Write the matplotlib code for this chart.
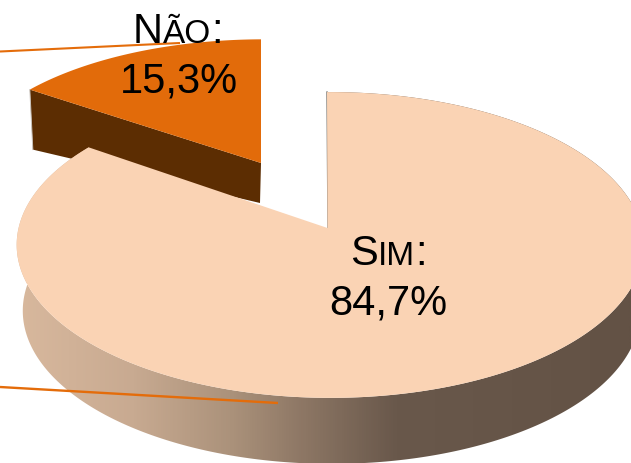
import matplotlib
matplotlib.use("Agg")
import matplotlib.pyplot as plt
import numpy as np
from matplotlib.colors import LinearSegmentedColormap
from matplotlib.patches import Polygon

plt.rcParams['font.family'] = ['Liberation Sans', 'DejaVu Sans']

# data
categories = ["Sim", "Não"]
values = [84.7, 15.3]
value_labels = ["84,7%", "15,3%"]

TOP_BIG = "#FAD3B4"
TOP_SMALL = "#E26B0A"
WALL_SMALL = "#5C2D02"
LINE = "#E46C0A"

fig = plt.figure(figsize=(6.31, 4.63), dpi=100)
ax = fig.add_axes([0, 0, 1, 1])
ax.set_xlim(0, 631)
ax.set_ylim(463, 0)
ax.axis("off")


def rim(theta, ax0, ay0, sx=1.0, sy=1.0):
    # circle seen in perspective, theta clockwise from 12 o'clock
    u, v = np.sin(theta), np.cos(theta)
    w = 1 + 0.111 * v - 0.01 * u
    return ax0 + sx * 311.5 * u / w, ay0 - sy * 151 * v / w


split = 2 * np.pi * values[0] / sum(values)

# small slice, pulled away from the big one
t = np.linspace(split, 2 * np.pi, 80)
sx, sy = rim(t, 261, 163, 0.97, 0.91)
ax.add_patch(Polygon([(sx[0], sy[0]), (261, 163), (260, 203), (sx[0] + 3, sy[0] + 60)],
                     fc=WALL_SMALL, ec="none", zorder=1))
ax.plot([sx[0], sx[0] + 3], [sy[0], sy[0] + 60], color="#c9c2bb", lw=0.7, zorder=1)
ax.add_patch(Polygon(np.r_[[(261, 163)], np.c_[sx, sy]], fc=TOP_SMALL, ec="none", zorder=2))

# big slice
t = np.linspace(0, split, 400)
bx, by = rim(t, 327, 228)

# side of the big slice, gradient clipped to the outline
stops = [(20, "#D9B99E"), (140, "#C8AA91"), (240, "#AA917A"), (310, "#8C7664"),
         (400, "#69584B"), (631, "#635245")]
x0, x1 = stops[0][0], stops[-1][0]
cmap = LinearSegmentedColormap.from_list(
    "side", [((x - x0) / (x1 - x0), c) for x, c in stops])
low_x = 331 + (bx - 329.6) * 0.985
side_x = np.r_[bx, low_x[::-1]]
side_y = np.r_[by, by[::-1] + 66]
side = Polygon(np.c_[side_x, side_y], fc="none", ec="none", transform=ax.transData)
ax.add_patch(side)
img = ax.imshow(np.linspace(0, 1, 600)[None, :], cmap=cmap, aspect="auto",
                extent=(x0 - 10, x1, 480, 80), zorder=3, interpolation="bilinear")
img.set_clip_path(side)
ax.set_xlim(0, 631)
ax.set_ylim(463, 0)

ax.plot([327, 328], [92, 228], color="#77736d", lw=1.0, zorder=3)
ax.add_patch(Polygon(np.r_[[(327.5, 228)], np.c_[bx, by]], fc=TOP_BIG, ec="none", zorder=4))

# leader lines
ax.plot([0, 180], [51.5, 43], color=LINE, lw=1.5, zorder=5, solid_capstyle="butt")
ax.plot([0, 278], [387, 403], color=LINE, lw=1.7, zorder=5, solid_capstyle="butt")


def small_caps(word, x, y):
    # first letter and colon full size, the rest as small capitals
    renderer = fig.canvas.get_renderer()
    parts = [(word[0], 30), (word[1:].upper(), 24), (":", 30)]
    for s, size in parts:
        txt = ax.text(x, y, s, fontsize=size, color="black", ha="left", va="baseline", zorder=6)
        bbox = txt.get_window_extent(renderer)
        x = bbox.x1


small_caps(categories[0], 350, 265)
ax.text(329, 314, value_labels[0], fontsize=30, color="black", ha="left", va="baseline", zorder=6)
small_caps(categories[1], 133, 43)
ax.text(120, 92, value_labels[1], fontsize=30, color="black", ha="left", va="baseline", zorder=6)

fig.savefig("out.png", dpi=100)
